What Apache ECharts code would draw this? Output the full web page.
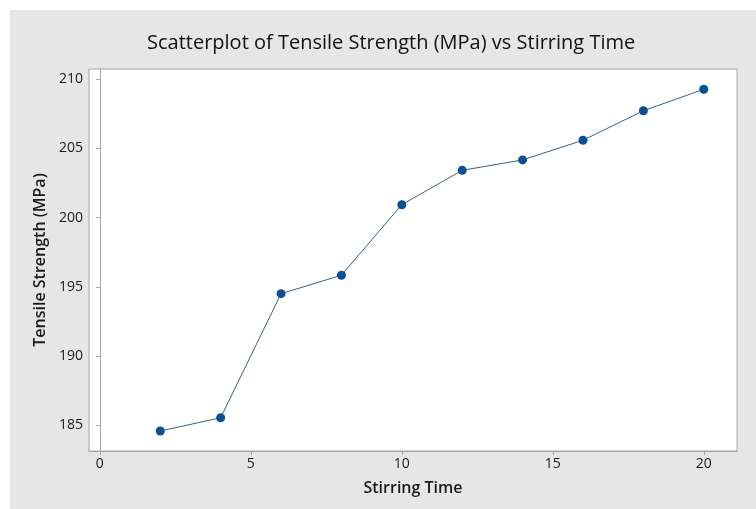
<!DOCTYPE html>
<html><head><meta charset="utf-8">
<script src="https://cdn.jsdelivr.net/npm/echarts@6/dist/echarts.min.js"></script>
<style>html,body{margin:0;padding:0;background:#fff}#c{width:756px;height:509px}</style>
</head><body><div id="c"></div>
<script>
var stirringTime = [2, 4, 6, 8, 10, 12, 14, 16, 18, 20];
var tensileStrength = [184.60, 185.56, 194.51, 195.84, 200.93, 203.41, 204.16, 205.58, 207.71, 209.26];
var xTicks = [0, 5, 10, 15, 20];
var yTicks = [185, 190, 195, 200, 205, 210];

var pts = stirringTime.map(function (x, i) { return [x, tensileStrength[i]]; });
var chart = echarts.init(document.getElementById('c'), null, {renderer: 'canvas'});
var font = '"Open Sans", "Noto Sans", sans-serif';
chart.setOption({
  backgroundColor: '#ffffff',
  animation: false,
  graphic: [
    {type: 'rect', z: -10, shape: {x: 10, y: 10, width: 746, height: 499}, style: {fill: '#e6e6e6'}},
    {type: 'text', left: 147, top: 33, style: {text: 'Scatterplot of Tensile Strength (MPa) vs Stirring Time', font: '500 20px ' + font, fill: '#111111'}}
  ],
  grid: {left: 89, top: 69, right: 19, bottom: 58, show: true, backgroundColor: '#ffffff', borderColor: '#a6a6a6', borderWidth: 1},
  xAxis: {
    type: 'value', min: -0.36, max: 21.1, interval: 5,
    name: 'Stirring Time', nameLocation: 'middle', nameGap: 29,
    nameTextStyle: {fontFamily: font, fontSize: 16, fontWeight: 600, color: '#1a1a1a'},
    axisLine: {show: true, lineStyle: {color: '#a6a6a6'}},
    axisTick: {show: true, length: 4, lineStyle: {color: '#a6a6a6'}, customValues: xTicks},
    axisLabel: {fontFamily: font, fontSize: 14, color: '#1a1a1a', margin: 6, customValues: xTicks, showMinLabel: true, showMaxLabel: true},
    splitLine: {show: false}
  },
  yAxis: {
    type: 'value', min: 183.16, max: 210.72, interval: 5,
    name: 'Tensile Strength (MPa)', nameLocation: 'middle', nameGap: 40,
    nameTextStyle: {fontFamily: font, fontSize: 16, fontWeight: 600, color: '#1a1a1a'},
    axisLine: {show: true, lineStyle: {color: '#a6a6a6'}},
    axisTick: {show: true, length: 4, lineStyle: {color: '#a6a6a6'}, customValues: yTicks},
    axisLabel: {fontFamily: font, fontSize: 14, color: '#1a1a1a', margin: 6, customValues: yTicks},
    splitLine: {show: false}
  },
  series: [{
    type: 'line', data: pts,
    symbol: 'circle', symbolSize: 9,
    lineStyle: {color: '#3d5f85', width: 1},
    itemStyle: {color: '#0b4f94'}
  }]
});
</script></body></html>
